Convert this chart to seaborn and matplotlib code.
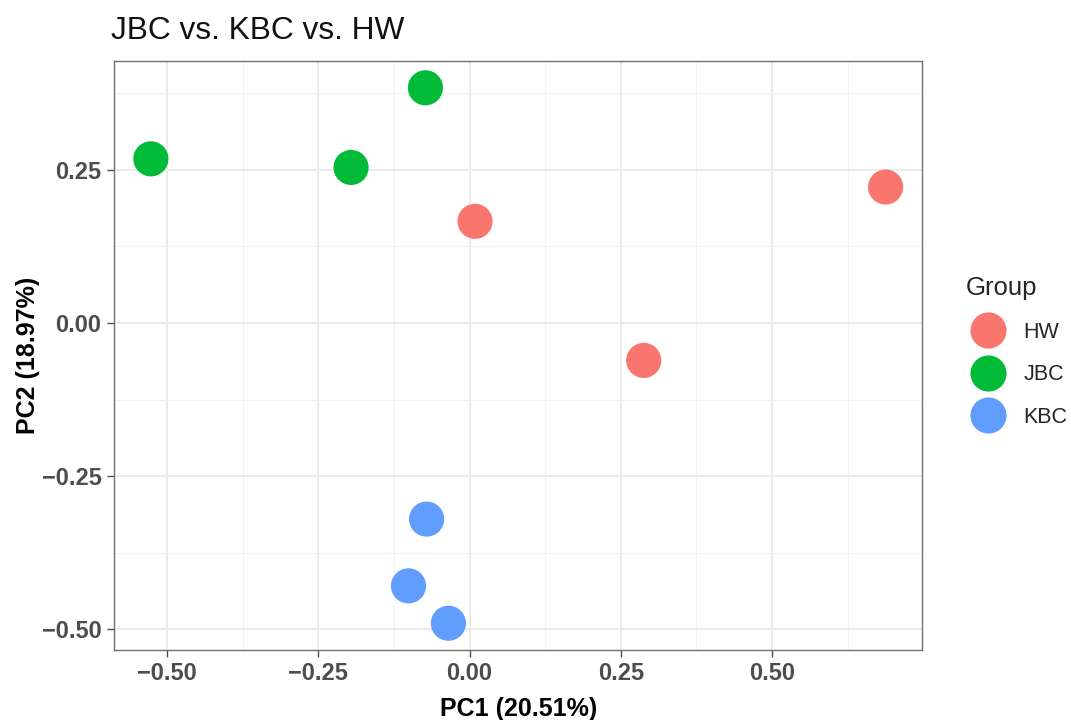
import matplotlib
matplotlib.use("Agg")
import matplotlib.pyplot as plt
import seaborn as sns
import pandas as pd
from matplotlib.ticker import MultipleLocator, FixedLocator

groups = ["JBC", "JBC", "JBC", "HW", "HW", "HW", "KBC", "KBC", "KBC"]
pc1 = [-0.527, -0.073, -0.196, 0.009, 0.688, 0.288, -0.071, -0.101, -0.035]
pc2 = [0.268, 0.384, 0.254, 0.166, 0.222, -0.061, -0.320, -0.429, -0.490]
group_order = ["HW", "JBC", "KBC"]
palette = {"HW": "#F8766D", "JBC": "#00BA38", "KBC": "#619CFF"}
x_ticks = [-0.50, -0.25, 0.00, 0.25, 0.50]
y_ticks = [-0.50, -0.25, 0.00, 0.25]

df = pd.DataFrame({"PC1": pc1, "PC2": pc2, "Group": groups})

sns.set_theme(style="white")
plt.rcParams["font.family"] = ["Liberation Sans", "DejaVu Sans"]

fig = plt.figure(figsize=(10.71, 7.2), dpi=100)
ax = fig.add_axes([114 / 1071, 70 / 720, 808.5 / 1071, 589 / 720])

sns.scatterplot(data=df, x="PC1", y="PC2", hue="Group", hue_order=group_order,
                palette=palette, s=640, edgecolor="none", ax=ax, zorder=3)

ax.set_xlim(-0.588, 0.749)
ax.set_ylim(-0.5337, 0.4277)
ax.xaxis.set_major_locator(FixedLocator(x_ticks))
ax.yaxis.set_major_locator(FixedLocator(y_ticks))
ax.xaxis.set_minor_locator(MultipleLocator(0.125))
ax.yaxis.set_minor_locator(MultipleLocator(0.125))
ax.set_xticklabels([f"{v:.2f}".replace("-", "\u2212") for v in x_ticks])
ax.set_yticklabels([f"{v:.2f}".replace("-", "\u2212") for v in y_ticks])

ax.grid(True, which="major", color="#EBEBEB", linewidth=1.4, zorder=0)
ax.grid(True, which="minor", color="#F2F2F2", linewidth=0.8, zorder=0)
ax.set_axisbelow(True)
for sp in ax.spines.values():
    sp.set_color("#707070")
    sp.set_linewidth(1.0)

ax.tick_params(axis="both", which="major", length=5, width=1.0, color="#4D4D4D",
               labelsize=17, labelcolor="#4D4D4D", pad=4, bottom=True, left=True)
ax.tick_params(axis="both", which="minor", length=0)
for lab in ax.get_xticklabels() + ax.get_yticklabels():
    lab.set_fontweight("bold")

ax.set_xlabel("PC1 (20.51%)", fontsize=18, fontweight="bold", color="black", labelpad=8)
ax.set_ylabel("PC2 (18.97%)", fontsize=18, fontweight="bold", color="black", labelpad=1)
ax.set_title("JBC vs. KBC vs. HW", fontsize=22.8, loc="left", x=-0.004, pad=16, color="#111111")

leg = ax.legend(title="Group", loc="upper left",
                bbox_to_anchor=(966 / 1071, 1 - 276 / 720), bbox_transform=fig.transFigure,
                frameon=False, fontsize=15.5, title_fontsize=18.5,
                labelspacing=1.0, handletextpad=0.67, handlelength=2.0, borderpad=0,
                borderaxespad=0)
leg._legend_box.align = "left"
for h in leg.legend_handles:
    h.set_markersize(26)
    h.set_markeredgewidth(0)

fig.savefig("out.png", dpi=100, facecolor="white")
